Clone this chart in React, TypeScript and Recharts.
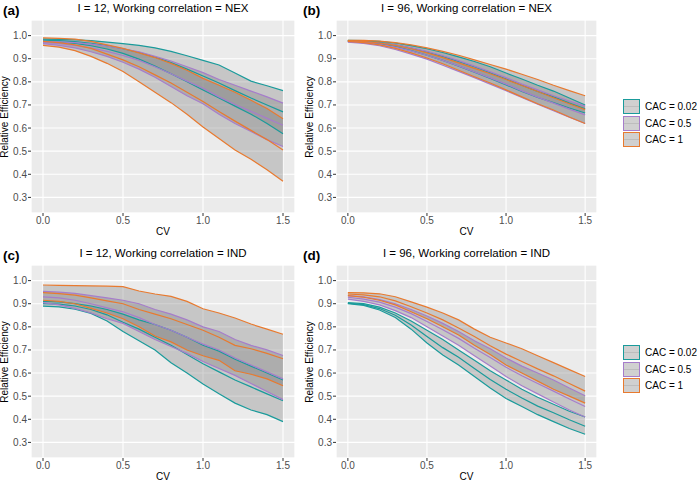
import React from 'react';
import { ComposedChart, Area, Line, XAxis, YAxis, CartesianGrid } from 'recharts';

const CV = [0, 0.1, 0.2, 0.3, 0.4, 0.5, 0.6, 0.7, 0.8, 0.9, 1.0, 1.1, 1.2, 1.3, 1.4, 1.5];
const X_TICKS = [0, 0.5, 1.0, 1.5];
const X_MINOR = [0.25, 0.75, 1.25];
const Y_TICKS = [0.3, 0.4, 0.5, 0.6, 0.7, 0.8, 0.9, 1.0];
const Y_MINOR = [0.25, 0.35, 0.45, 0.55, 0.65, 0.75, 0.85, 0.95, 1.05];
const CAC_LABELS = ['CAC = 0.02', 'CAC = 0.5', 'CAC = 1'];
const CAC_COLORS = ['#1A9B9B', '#A67DCB', '#E87A2F'];

// Panel (a): I = 12, NEX
const A_TEAL_HI = [0.985, 0.984, 0.982, 0.978, 0.972, 0.965, 0.958, 0.947, 0.932, 0.913, 0.893, 0.873, 0.838, 0.803, 0.783, 0.762];
const A_TEAL_MID = [0.980, 0.978, 0.974, 0.967, 0.957, 0.943, 0.927, 0.907, 0.883, 0.855, 0.825, 0.795, 0.762, 0.730, 0.700, 0.670];
const A_TEAL_LO = [0.975, 0.972, 0.966, 0.956, 0.942, 0.923, 0.898, 0.868, 0.835, 0.800, 0.765, 0.730, 0.695, 0.660, 0.620, 0.575];
const A_PURP_HI = [0.975, 0.973, 0.970, 0.963, 0.955, 0.943, 0.930, 0.910, 0.890, 0.865, 0.840, 0.810, 0.785, 0.760, 0.735, 0.708];
const A_PURP_MID = [0.970, 0.966, 0.958, 0.947, 0.932, 0.914, 0.893, 0.865, 0.835, 0.803, 0.772, 0.735, 0.702, 0.672, 0.642, 0.612];
const A_PURP_LO = [0.965, 0.958, 0.947, 0.930, 0.910, 0.885, 0.855, 0.820, 0.780, 0.740, 0.705, 0.660, 0.620, 0.585, 0.550, 0.520];
const A_ORAN_HI = [0.990, 0.988, 0.985, 0.975, 0.960, 0.945, 0.925, 0.905, 0.880, 0.850, 0.815, 0.785, 0.755, 0.720, 0.685, 0.640];
const A_ORAN_MID = [0.975, 0.970, 0.960, 0.945, 0.920, 0.895, 0.865, 0.830, 0.795, 0.755, 0.715, 0.672, 0.630, 0.590, 0.550, 0.505];
const A_ORAN_LO = [0.958, 0.950, 0.935, 0.910, 0.880, 0.845, 0.800, 0.755, 0.710, 0.660, 0.605, 0.555, 0.505, 0.465, 0.420, 0.370];

// Panel (b): I = 96, NEX
const B_TEAL_HI = [0.980, 0.978, 0.975, 0.968, 0.957, 0.943, 0.927, 0.908, 0.888, 0.865, 0.838, 0.812, 0.785, 0.760, 0.730, 0.700];
const B_TEAL_MID = [0.978, 0.975, 0.970, 0.960, 0.946, 0.929, 0.910, 0.888, 0.865, 0.840, 0.812, 0.785, 0.758, 0.735, 0.708, 0.683];
const B_TEAL_LO = [0.976, 0.972, 0.964, 0.952, 0.935, 0.915, 0.893, 0.868, 0.842, 0.815, 0.787, 0.758, 0.732, 0.710, 0.687, 0.665];
const B_PURP_HI = [0.975, 0.973, 0.968, 0.960, 0.947, 0.932, 0.913, 0.892, 0.868, 0.843, 0.818, 0.790, 0.765, 0.740, 0.717, 0.695];
const B_PURP_MID = [0.974, 0.970, 0.962, 0.950, 0.934, 0.915, 0.893, 0.869, 0.843, 0.817, 0.790, 0.761, 0.734, 0.708, 0.682, 0.657];
const B_PURP_LO = [0.972, 0.966, 0.956, 0.940, 0.920, 0.898, 0.872, 0.845, 0.818, 0.790, 0.762, 0.732, 0.703, 0.675, 0.647, 0.620];
const B_ORAN_HI = [0.980, 0.979, 0.976, 0.970, 0.960, 0.947, 0.932, 0.915, 0.895, 0.875, 0.855, 0.833, 0.810, 0.785, 0.762, 0.740];
const B_ORAN_MID = [0.978, 0.975, 0.968, 0.958, 0.943, 0.925, 0.905, 0.882, 0.858, 0.835, 0.810, 0.784, 0.758, 0.731, 0.705, 0.680];
const B_ORAN_LO = [0.975, 0.970, 0.960, 0.945, 0.925, 0.903, 0.878, 0.850, 0.822, 0.795, 0.765, 0.735, 0.705, 0.678, 0.648, 0.620];

// Panel (c): I = 12, IND
const C_TEAL_HI = [0.910, 0.908, 0.900, 0.890, 0.875, 0.855, 0.830, 0.810, 0.785, 0.755, 0.720, 0.695, 0.660, 0.630, 0.600, 0.570];
const C_TEAL_MID = [0.900, 0.898, 0.890, 0.875, 0.852, 0.820, 0.790, 0.755, 0.720, 0.680, 0.640, 0.605, 0.570, 0.540, 0.510, 0.480];
const C_TEAL_LO = [0.890, 0.886, 0.876, 0.858, 0.825, 0.780, 0.740, 0.700, 0.645, 0.600, 0.553, 0.510, 0.470, 0.440, 0.420, 0.390];
const C_PURP_HI = [0.953, 0.950, 0.945, 0.935, 0.925, 0.915, 0.900, 0.875, 0.855, 0.830, 0.800, 0.780, 0.745, 0.720, 0.700, 0.676];
const C_PURP_MID = [0.930, 0.925, 0.915, 0.900, 0.882, 0.865, 0.840, 0.810, 0.785, 0.755, 0.725, 0.700, 0.665, 0.635, 0.605, 0.575];
const C_PURP_LO = [0.905, 0.895, 0.880, 0.860, 0.835, 0.815, 0.780, 0.745, 0.715, 0.685, 0.650, 0.620, 0.590, 0.555, 0.520, 0.485];
const C_ORAN_HI = [0.981, 0.979, 0.978, 0.977, 0.976, 0.974, 0.955, 0.942, 0.932, 0.910, 0.878, 0.860, 0.838, 0.812, 0.790, 0.768];
const C_ORAN_MID = [0.948, 0.944, 0.937, 0.925, 0.912, 0.900, 0.875, 0.855, 0.835, 0.810, 0.785, 0.755, 0.720, 0.705, 0.685, 0.662];
const C_ORAN_LO = [0.915, 0.910, 0.900, 0.880, 0.860, 0.835, 0.800, 0.760, 0.735, 0.700, 0.675, 0.655, 0.610, 0.595, 0.575, 0.545];

// Panel (d): I = 96, IND
const D_TEAL_HI = [0.905, 0.900, 0.885, 0.860, 0.825, 0.785, 0.745, 0.700, 0.655, 0.610, 0.570, 0.530, 0.495, 0.465, 0.435, 0.410];
const D_TEAL_MID = [0.902, 0.896, 0.879, 0.850, 0.808, 0.758, 0.710, 0.668, 0.620, 0.572, 0.530, 0.492, 0.457, 0.428, 0.398, 0.370];
const D_TEAL_LO = [0.900, 0.893, 0.873, 0.840, 0.790, 0.730, 0.678, 0.635, 0.585, 0.535, 0.490, 0.455, 0.420, 0.390, 0.360, 0.335];
const D_PURP_HI = [0.935, 0.930, 0.918, 0.900, 0.875, 0.847, 0.815, 0.780, 0.740, 0.705, 0.665, 0.630, 0.600, 0.570, 0.535, 0.502];
const D_PURP_MID = [0.928, 0.920, 0.907, 0.885, 0.857, 0.823, 0.787, 0.750, 0.707, 0.667, 0.625, 0.588, 0.555, 0.522, 0.488, 0.455];
const D_PURP_LO = [0.920, 0.910, 0.895, 0.870, 0.840, 0.800, 0.760, 0.720, 0.675, 0.630, 0.585, 0.545, 0.510, 0.475, 0.440, 0.410];
const D_ORAN_HI = [0.948, 0.947, 0.943, 0.930, 0.908, 0.885, 0.860, 0.830, 0.790, 0.755, 0.730, 0.705, 0.675, 0.645, 0.615, 0.585];
const D_ORAN_MID = [0.942, 0.938, 0.930, 0.912, 0.887, 0.860, 0.830, 0.795, 0.758, 0.718, 0.682, 0.650, 0.618, 0.588, 0.555, 0.522];
const D_ORAN_LO = [0.935, 0.928, 0.915, 0.895, 0.865, 0.835, 0.800, 0.765, 0.720, 0.680, 0.635, 0.600, 0.565, 0.530, 0.500, 0.470];

const FONT = '"Liberation Sans", Arial, Helvetica, sans-serif';
const X_DOMAIN = [-0.075, 1.575];
const Y_DOMAIN = [0.2325, 1.0675];

type Group = { lo: number[]; mid: number[]; hi: number[] };

function buildData(groups: Group[]) {
  return CV.map((cv, i) => {
    const row: any = { cv };
    groups.forEach((g, k) => {
      row['r' + k] = [g.lo[i], g.hi[i]];
      row['lo' + k] = g.lo[i];
      row['mid' + k] = g.mid[i];
      row['hi' + k] = g.hi[i];
    });
    return row;
  });
}

const PANELS = [
  {
    tag: '(a)', title: 'I = 12, Working correlation = NEX', left: 0, top: 0, yw: 31, mr: 5,
    groups: [
      { lo: A_TEAL_LO, mid: A_TEAL_MID, hi: A_TEAL_HI },
      { lo: A_PURP_LO, mid: A_PURP_MID, hi: A_PURP_HI },
      { lo: A_ORAN_LO, mid: A_ORAN_MID, hi: A_ORAN_HI },
    ],
  },
  {
    tag: '(b)', title: 'I = 96, Working correlation = NEX', left: 300, top: 0, yw: 36, mr: 3,
    groups: [
      { lo: B_TEAL_LO, mid: B_TEAL_MID, hi: B_TEAL_HI },
      { lo: B_PURP_LO, mid: B_PURP_MID, hi: B_PURP_HI },
      { lo: B_ORAN_LO, mid: B_ORAN_MID, hi: B_ORAN_HI },
    ],
  },
  {
    tag: '(c)', title: 'I = 12, Working correlation = IND', left: 0, top: 245, yw: 31, mr: 5,
    groups: [
      { lo: C_TEAL_LO, mid: C_TEAL_MID, hi: C_TEAL_HI },
      { lo: C_PURP_LO, mid: C_PURP_MID, hi: C_PURP_HI },
      { lo: C_ORAN_LO, mid: C_ORAN_MID, hi: C_ORAN_HI },
    ],
  },
  {
    tag: '(d)', title: 'I = 96, Working correlation = IND', left: 300, top: 245, yw: 36, mr: 3,
    groups: [
      { lo: D_TEAL_LO, mid: D_TEAL_MID, hi: D_TEAL_HI },
      { lo: D_PURP_LO, mid: D_PURP_MID, hi: D_PURP_HI },
      { lo: D_ORAN_LO, mid: D_ORAN_MID, hi: D_ORAN_HI },
    ],
  },
];

const CH_W = 300;
const CH_H = 240;
const M_TOP = 20;
const M_BOT = 13;
const XA_H = 14;

function Panel({ p }: { p: any }) {
  const data = buildData(p.groups);
  const plotL = p.yw;
  const plotR = CH_W - p.mr;
  const cx = (plotL + plotR) / 2;
  const plotT = M_TOP;
  const plotB = CH_H - M_BOT - XA_H;
  const cy = (plotT + plotB) / 2;
  const margin = { top: M_TOP, right: p.mr, bottom: M_BOT, left: 0 };
  return (
    <div style={{ position: 'absolute', left: p.left, top: p.top, width: CH_W, height: CH_H }}>
      {/* background layer: panel fill and minor grid */}
      <div style={{ position: 'absolute', left: 0, top: 0 }}>
        <ComposedChart width={CH_W} height={CH_H} data={data} margin={margin}>
          <CartesianGrid fill="#EBEBEB" stroke="#FFFFFF" strokeWidth={0.55} />
          <XAxis dataKey="cv" type="number" domain={X_DOMAIN} ticks={X_MINOR} allowDataOverflow
            height={XA_H} tick={false} tickLine={false} axisLine={false} />
          <YAxis type="number" domain={Y_DOMAIN} ticks={Y_MINOR} allowDataOverflow
            width={p.yw} tick={false} tickLine={false} axisLine={false} />
        </ComposedChart>
      </div>
      {/* foreground layer: major grid, axes and series */}
      <div style={{ position: 'absolute', left: 0, top: 0 }}>
        <ComposedChart width={CH_W} height={CH_H} data={data} margin={margin}>
          <CartesianGrid fill="none" stroke="#FFFFFF" strokeWidth={1.1} />
          <XAxis dataKey="cv" type="number" domain={X_DOMAIN} ticks={X_TICKS}
            allowDataOverflow height={XA_H} tickSize={3} tickMargin={1}
            axisLine={false} tickLine={{ stroke: '#333333' }}
            tick={{ fontSize: 10, fill: '#4D4D4D', fontFamily: FONT }}
            tickFormatter={(v: number) => v.toFixed(1)} />
          <YAxis type="number" domain={Y_DOMAIN} ticks={Y_TICKS} allowDataOverflow
            width={p.yw} tickSize={3} tickMargin={1} axisLine={false}
            tickLine={{ stroke: '#333333' }}
            tick={{ fontSize: 10, fill: '#4D4D4D', fontFamily: FONT }}
            tickFormatter={(v: number) => v.toFixed(1)} />
          {p.groups.map((g: Group, k: number) => (
            <Area key={'a' + k} dataKey={'r' + k} type="linear" stroke="none"
              fill="#7F7F7F" fillOpacity={0.34} isAnimationActive={false} activeDot={false} />
          ))}
          {p.groups.map((g: Group, k: number) =>
            ['lo', 'mid', 'hi'].map((s) => (
              <Line key={s + k} dataKey={s + k} type="linear"
                stroke={CAC_COLORS[k]} strokeWidth={1.2} dot={false} activeDot={false}
                isAnimationActive={false} />
            ))
          )}
        </ComposedChart>
      </div>
      <div style={{ position: 'absolute', left: 3, top: 4, fontFamily: FONT,
        fontWeight: 'bold', fontSize: 13.5, lineHeight: '14px', color: '#000' }}>{p.tag}</div>
      <div style={{ position: 'absolute', left: cx - 120, width: 240, top: 2, textAlign: 'center',
        fontFamily: FONT, fontSize: 11.5, lineHeight: '13px', color: '#000', whiteSpace: 'nowrap' }}>{p.title}</div>
      <div style={{ position: 'absolute', left: cx - 30, width: 60, top: CH_H - 14, textAlign: 'center',
        fontFamily: FONT, fontSize: 10, lineHeight: '11px', color: '#000' }}>CV</div>
      <div style={{ position: 'absolute', left: (p.left ? 10 : 5) - 60, width: 120, top: cy - 6,
        textAlign: 'center', fontFamily: FONT, fontSize: 10, lineHeight: '12px', color: '#000',
        transform: 'rotate(-90deg)', whiteSpace: 'nowrap' }}>Relative Efficiency</div>
    </div>
  );
}

function LegendBox({ top }: { top: number }) {
  return (
    <div style={{ position: 'absolute', left: 623, top, width: 74 }}>
      {CAC_LABELS.map((lab, i) => (
        <div key={lab} style={{ position: 'absolute', left: 0, top: i * 16.6, height: 15, width: 74 }}>
          <div style={{ position: 'absolute', left: 0, top: 0, width: 15, height: 13,
            border: '1px solid ' + CAC_COLORS[i], background: '#D0D0D0' }}>
            <div style={{ position: 'absolute', left: 0, right: 0, top: 6, height: 1, background: '#BDBDBD' }} />
          </div>
          <div style={{ position: 'absolute', left: 22, top: 1, fontFamily: FONT, fontSize: 10,
            lineHeight: '13px', color: '#000', whiteSpace: 'nowrap' }}>{lab}</div>
        </div>
      ))}
    </div>
  );
}

export default function App() {
  return (
    <div style={{ position: 'absolute', left: 0, top: 0, width: 697, height: 487, background: '#FFFFFF', overflow: 'hidden' }}>
      {PANELS.map((p) => <Panel key={p.tag} p={p} />)}
      <LegendBox top={99} />
      <LegendBox top={345} />
    </div>
  );
}
